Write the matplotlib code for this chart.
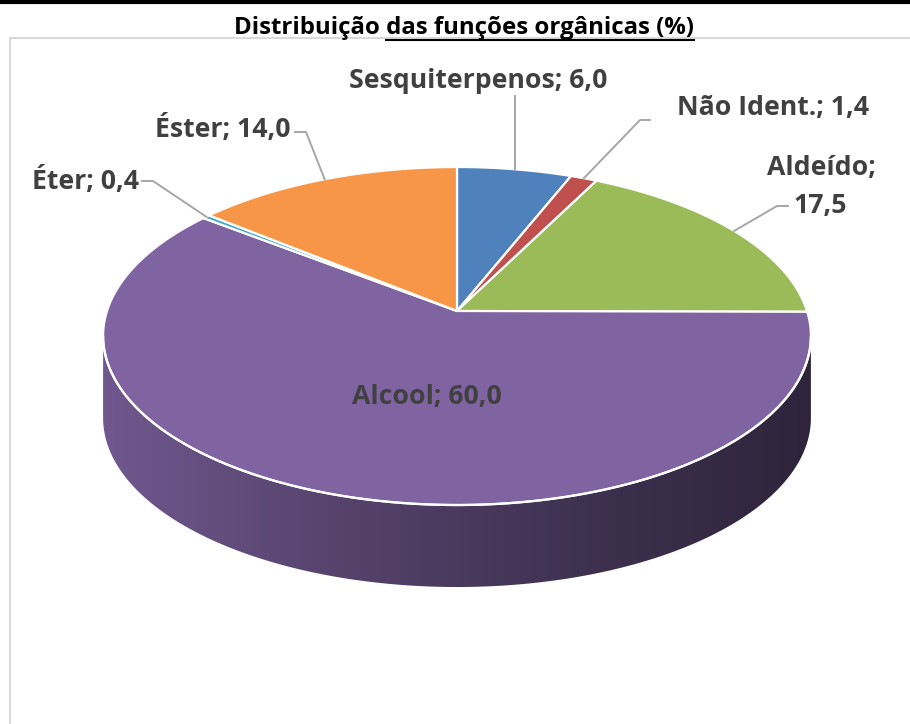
import numpy as np
import matplotlib
matplotlib.use("Agg")
import matplotlib.pyplot as plt
from matplotlib.patches import Polygon
from matplotlib.colors import to_rgb

# ---- data ----
categories = ["Sesquiterpenos", "Não Ident.", "Aldeído", "Alcool", "Éter", "Éster"]
values = [6.0, 1.4, 17.5, 60.0, 0.4, 14.0]
colors = ["#4F81BD", "#C0504D", "#9BBB59", "#8064A2", "#4BACC6", "#F79646"]
title_prefix = "Distribuição "
title_underlined = "das funções orgânicas (%)"

# ---- canvas ----
W, H = 910, 724
fig = plt.figure(figsize=(W / 100, H / 100), dpi=100)
ax = fig.add_axes([0, 0, 1, 1])
ax.set_xlim(0, W)
ax.set_ylim(H, 0)
ax.axis("off")

FONT = "Open Sans"
TXT = "#404040"
LEADER = "#A6A6A6"

# ---- perspective disc geometry ----
CX, CY = 457, 311            # pie apex on screen
A, B, K = 350, 165.3, 0.148  # horizontal / vertical scale and perspective factor
DEPTH = 82


def project(phi_deg, dy=0.0):
    p = np.radians(phi_deg)
    u, v = np.cos(p), np.sin(p)
    d = 1 + K * v
    return CX + A * u / d, CY - B * v / d + dy


def fmt(v):
    return f"{v:.1f}".replace(".", ",")


total = sum(values)
cum = np.concatenate([[0], np.cumsum(values)])
starts = 90 - cum[:-1] / total * 360
ends = 90 - cum[1:] / total * 360

# visible front wall lies between the two silhouette tangents
t = np.degrees(np.arcsin(K))
side_lo, side_hi = 180 + t, 360 - t


def shade(x):
    xs = [100, 300, 457, 620, 816]
    fs = [0.88, 0.70, 0.58, 0.47, 0.36]
    return np.interp(x, xs, fs)


# side walls
for s, e, c in zip(starts, ends, colors):
    for k in (-1, 0, 1):
        lo = max(e, side_lo - 360 * k)
        hi = min(s, side_hi - 360 * k)
        if hi <= lo:
            continue
        ang = np.linspace(lo, hi, 300)
        xt, yt = project(ang)
        xb, yb = project(ang[::-1], DEPTH)
        poly = Polygon(np.column_stack([np.r_[xt, xb], np.r_[yt, yb]]),
                       closed=True, facecolor="none", edgecolor="none")
        ax.add_patch(poly)
        gx = np.linspace(90, 830, 400)
        base = np.array(to_rgb(c))
        grad = np.clip(shade(gx)[:, None] * base[None, :], 0, 1)
        img = np.repeat(grad[None, :, :], 2, axis=0)
        im = ax.imshow(img, extent=(90, 830, 620, 280), aspect="auto",
                       interpolation="bilinear", zorder=1)
        im.set_clip_path(poly)

ax.set_xlim(0, W)
ax.set_ylim(H, 0)

# top faces
for s, e, c in zip(starts, ends, colors):
    ang = np.linspace(s, e, max(int(abs(s - e) * 3), 10))
    x, y = project(ang)
    pts = np.column_stack([np.r_[CX, x], np.r_[CY, y]])
    ax.add_patch(Polygon(pts, closed=True, facecolor=c, edgecolor="white",
                         linewidth=1.6, joinstyle="round", zorder=2))

# light rim between top and wall
ang = np.linspace(side_lo, side_hi, 400)
x, y = project(ang)
ax.plot(x, y, color="white", lw=1.6, zorder=3, solid_capstyle="round")

# ---- data labels ----
label_style = dict(fontfamily=FONT, fontweight="bold", fontsize=19.2,
                   color=TXT, zorder=5)


def lab(i):
    return f"{categories[i]}; {fmt(values[i])}"


mids = (starts + ends) / 2
anchors = [project(m) for m in mids]

# label text positions (x centre, baseline) and leader elbows
label_pos = {
    0: (478, 88, None),
    1: (773, 115, (650, 120, 640, 120)),
    4: (86, 189, (142, 181, 153, 181)),
    5: (223, 137, (295, 132, 306, 132)),
}
for i, (lx, ly, elbow) in label_pos.items():
    ax.text(lx, ly, lab(i), ha="center", va="baseline", **label_style)
    axp, ayp = anchors[i]
    if elbow is None:
        ax.plot([axp, axp], [ly + 8, ayp], color=LEADER, lw=1.4, zorder=4)
    else:
        x0, y0, x1, y1 = elbow
        ax.plot([x0, x1, axp], [y0, y1, ayp], color=LEADER, lw=1.4, zorder=4)

# Aldeído label on two lines
ax.text(821, 175, f"{categories[2]};", ha="center", va="baseline", **label_style)
ax.text(820, 213, fmt(values[2]), ha="center", va="baseline", **label_style)
axp, ayp = anchors[2]
ax.plot([788, 777, axp], [206, 206, ayp], color=LEADER, lw=1.4, zorder=4)

# Alcool label inside the slice
ax.text(427, 404, lab(3), ha="center", va="baseline", **label_style)

# ---- frame ----
ax.plot([0, W], [1.5, 1.5], color="black", lw=3, zorder=6, clip_on=False)
ax.plot([10, 10, W], [H, 38, 38], color="#D9D9D9", lw=1.5, zorder=0)

# ---- title with partial underline ----
title_style = dict(fontfamily=FONT, fontweight="bold", fontsize=17.3, color="black")
full = title_prefix + title_underlined
tt = ax.text(464, 34, full, ha="center", va="baseline", zorder=7, **title_style)
fig.canvas.draw()
r = fig.canvas.get_renderer()
bb = tt.get_window_extent(r)
tmp = ax.text(0, 0, title_prefix.rstrip() + "\u00a0", va="baseline", **title_style)
pw = tmp.get_window_extent(r).width
tmp.remove()
inv = ax.transData.inverted()
ux0 = inv.transform((bb.x0 + pw, 0))[0]
ux1 = inv.transform((bb.x1, 0))[0]
ax.plot([ux0, ux1], [39.5, 39.5], color="black", lw=1.5, zorder=7)

fig.savefig("out.png", dpi=100)
